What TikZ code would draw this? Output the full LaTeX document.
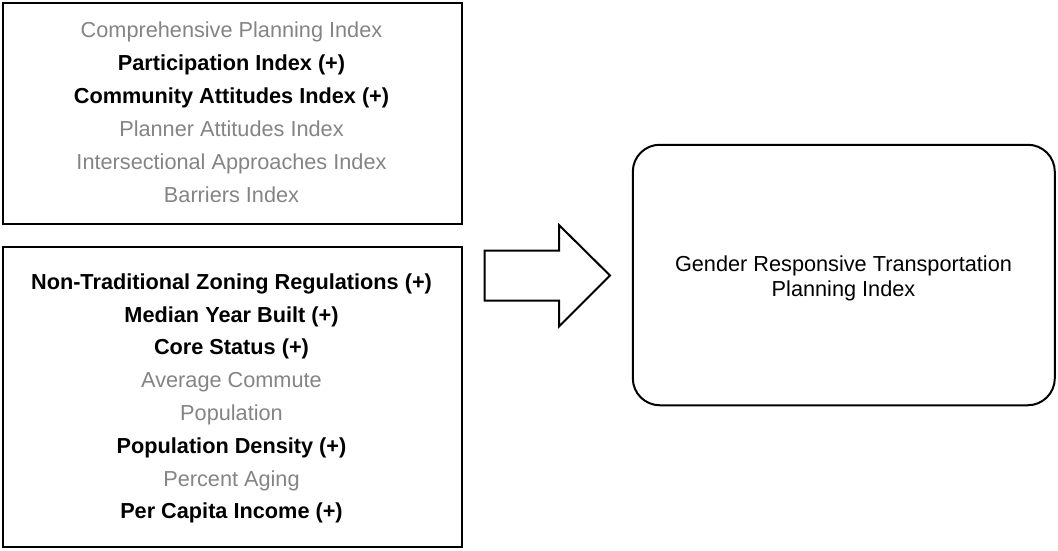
\documentclass[tikz,border=0pt]{standalone}
\usepackage{fontspec}
\setmainfont{Liberation Sans}
\definecolor{dimtext}{RGB}{132,132,132}
\begin{document}
\begin{tikzpicture}[x=1pt,y=-1pt,
  frame/.style={draw=black, line width=2pt, rectangle, inner sep=0pt},
  outcome/.style={draw=black, line width=2pt, rectangle, rounded corners=27pt, inner sep=0pt},
  entry/.style={anchor=base, inner sep=0pt, font=\fontsize{21.7}{26}\selectfont},
  minor/.style={entry, text=dimtext},
  major/.style={entry, text=black, font=\fontsize{21.7}{26}\selectfont\bfseries},
  outtext/.style={anchor=base, inner sep=0pt, font=\fontsize{21.7}{26}\selectfont, text=black},
  blockarrow/.style={draw=black, line width=2pt, line join=miter, fill=white}]
\useasboundingbox (0,0) rectangle (1058,550);

% planning indices
\node[frame, minimum width=459pt, minimum height=221pt] (indices) at (232.4,113.6) {};
\node[minor] (compr) at (231.5,37.5)  {Comprehensive Planning Index};
\node[major] (partic) at (231.5,70.5) {Participation Index (+)};
\node[major] (commun) at (231.5,103.5) {Community Attitudes Index (+)};
\node[minor] (planner) at (231.5,136.5) {Planner Attitudes Index};
\node[minor] (intersec) at (231.5,169.5) {Intersectional Approaches Index};
\node[minor] (barriers) at (231.5,202.3) {Barriers Index};

% community characteristics
\node[frame, minimum width=459pt, minimum height=300pt] (context) at (232.4,397) {};
\node[major] (zoning) at (231.5,289.3) {Non-Traditional Zoning Regulations (+)};
\node[major] (yearbuilt) at (231.5,322.1) {Median Year Built (+)};
\node[major] (core) at (231.5,354.9) {Core Status (+)};
\node[minor] (commute) at (231.5,387.7) {Average Commute};
\node[minor] (pop) at (231.5,420.5) {Population};
\node[major] (density) at (231.5,453.3) {Population Density (+)};
\node[minor] (aging) at (231.5,486.1) {Percent Aging};
\node[major] (income) at (231.5,518.9) {Per Capita Income (+)};

% block arrow
\coordinate (a1) at (484.7,250.5);
\coordinate (a2) at (559,250.5);
\coordinate (a3) at (559,225);
\coordinate (tip) at (610,275.5);
\coordinate (a5) at (559,326.5);
\coordinate (a6) at (559,300.5);
\coordinate (a7) at (484.7,300.5);
\draw[blockarrow] (a1) -- (a2) -- (a3) -- (tip) -- (a5) -- (a6) -- (a7) -- cycle;

% resulting index
\node[outcome, minimum width=422pt, minimum height=260.5pt] (grtpi) at (843.8,275) {};
\node[outtext] (grtpi1) at (843.5,271) {Gender Responsive Transportation};
\node[outtext] (grtpi2) at (843.5,296) {Planning Index};
\end{tikzpicture}
\end{document}
